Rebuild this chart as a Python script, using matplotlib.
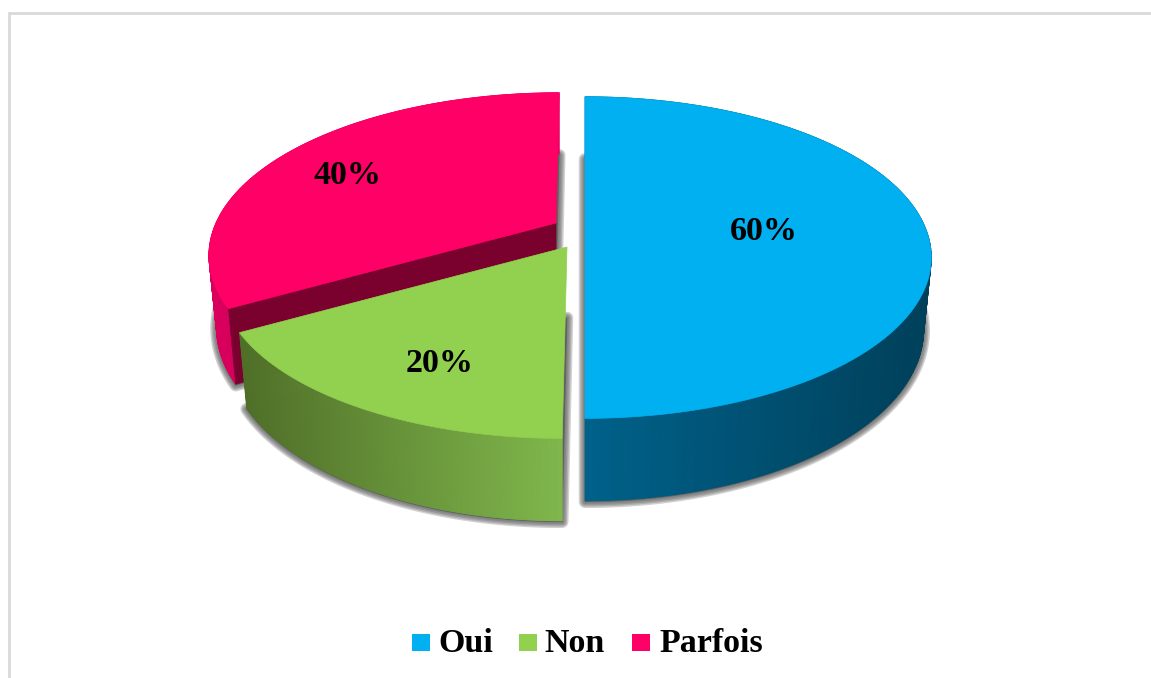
import numpy as np
import matplotlib
matplotlib.use('Agg')
import matplotlib.pyplot as plt

labels = ['Oui', 'Non', 'Parfois']
values = [60, 20, 40]

colors = ['#00b0f0', '#92d050', '#ff0066']
side_left = ['#00618a', '#80b84c', '#d8005c']
side_right = ['#00405a', '#4f6f28', '#e00060']
wall_color = '#7a002e'
frame_color = '#d9d9d9'
shadow_color = '#5a5a5a'

# apex of each exploded slice, in pixels
apex = [(585, 227), (567, 247), (556, 223)]
shear = [0.0, -0.025, -0.025]
label_pos = [(764, 232), (440, 363), (348, 175)]
legend_box = [412, 519, 632]
legend_text = [438, 544, 659]

P = 0.19      # perspective strength
RX = 340
RY = 155


def top_point(a, i):
    u, v = np.cos(a), np.sin(a)
    X = RX * u / (1 + P * v)
    Y = -RY * v / (1 + P * v)
    return apex[i][0] + X + shear[i] * Y, apex[i][1] + Y


def bottom_point(a, i):
    u, v = np.cos(a), np.sin(a)
    X = RX * u / (1 + P * v)
    Y = -RY * v / (1 + P * v)
    return apex[i][0] + 0.978 * X + shear[i] * Y, apex[i][1] + 1.065 * Y + 70


def hex_mix(c1, c2, t):
    a = np.array(matplotlib.colors.to_rgb(c1))
    b = np.array(matplotlib.colors.to_rgb(c2))
    return tuple(a + (b - a) * t)


fig = plt.figure(figsize=(11.51, 6.78), dpi=100)
ax = fig.add_axes([0, 0, 1, 1])
ax.set_xlim(0, 1151)
ax.set_ylim(678, 0)
ax.axis('off')

ax.plot([9.5, 9.5, 1151], [678, 12.5, 12.5], color=frame_color, lw=2.0, solid_joinstyle='miter')

total = sum(values)
stops = 90 - np.cumsum([0] + values) / total * 360

for i in [2, 1, 0]:
    a = np.radians(np.linspace(stops[i], stops[i + 1], 200))

    # soft shadow from the lower face
    bx, by = bottom_point(a, i)
    cx = apex[i][0]
    cy = apex[i][1] + 70
    sx = np.r_[cx, bx]
    sy = np.r_[cy, by]
    for w in [9, 7, 5, 3, 1]:
        ax.fill(sx, sy + 1, facecolor=shadow_color, edgecolor=shadow_color, lw=w, alpha=0.28, joinstyle='round')

    # outer side, drawn in thin strips for the gradient
    tx, ty = top_point(a, i)
    xmin, xmax = tx.min(), tx.max()
    for j in range(len(a) - 1):
        t = ((tx[j] + tx[j + 1]) / 2 - xmin) / (xmax - xmin)
        c = hex_mix(side_left[i], side_right[i], t)
        if i == 1:
            c = hex_mix(side_right[i], side_left[i], t)
        ax.fill([tx[j], tx[j + 1], bx[j + 1], bx[j]], [ty[j], ty[j + 1], by[j + 1], by[j]],
                facecolor=c, edgecolor=c, lw=0.6)

    # dark cut face of the red slice
    if i == 2:
        x0, y0 = top_point(a[0], i)
        x1, y1 = bottom_point(a[0], i)
        ax.fill([apex[i][0], x0, x1, apex[i][0]], [apex[i][1], y0, y1, apex[i][1] + 70],
                facecolor=wall_color, edgecolor=wall_color, lw=0.5)

    ax.fill(np.r_[apex[i][0], tx], np.r_[apex[i][1], ty], facecolor=colors[i], edgecolor=colors[i], lw=0.5)

font = {'family': 'Liberation Serif', 'weight': 'bold', 'size': 24.5, 'color': 'black'}
for i, v in enumerate(values):
    ax.text(label_pos[i][0], label_pos[i][1], f'{v}%', ha='center', va='center', **font)

    ax.fill([legend_box[i], legend_box[i] + 18, legend_box[i] + 18, legend_box[i]],
            [634, 634, 651, 651], facecolor=colors[i], edgecolor='none')
    ax.text(legend_text[i], 643, labels[i], ha='left', va='center', **font)

plt.savefig('out.png', dpi=100)
